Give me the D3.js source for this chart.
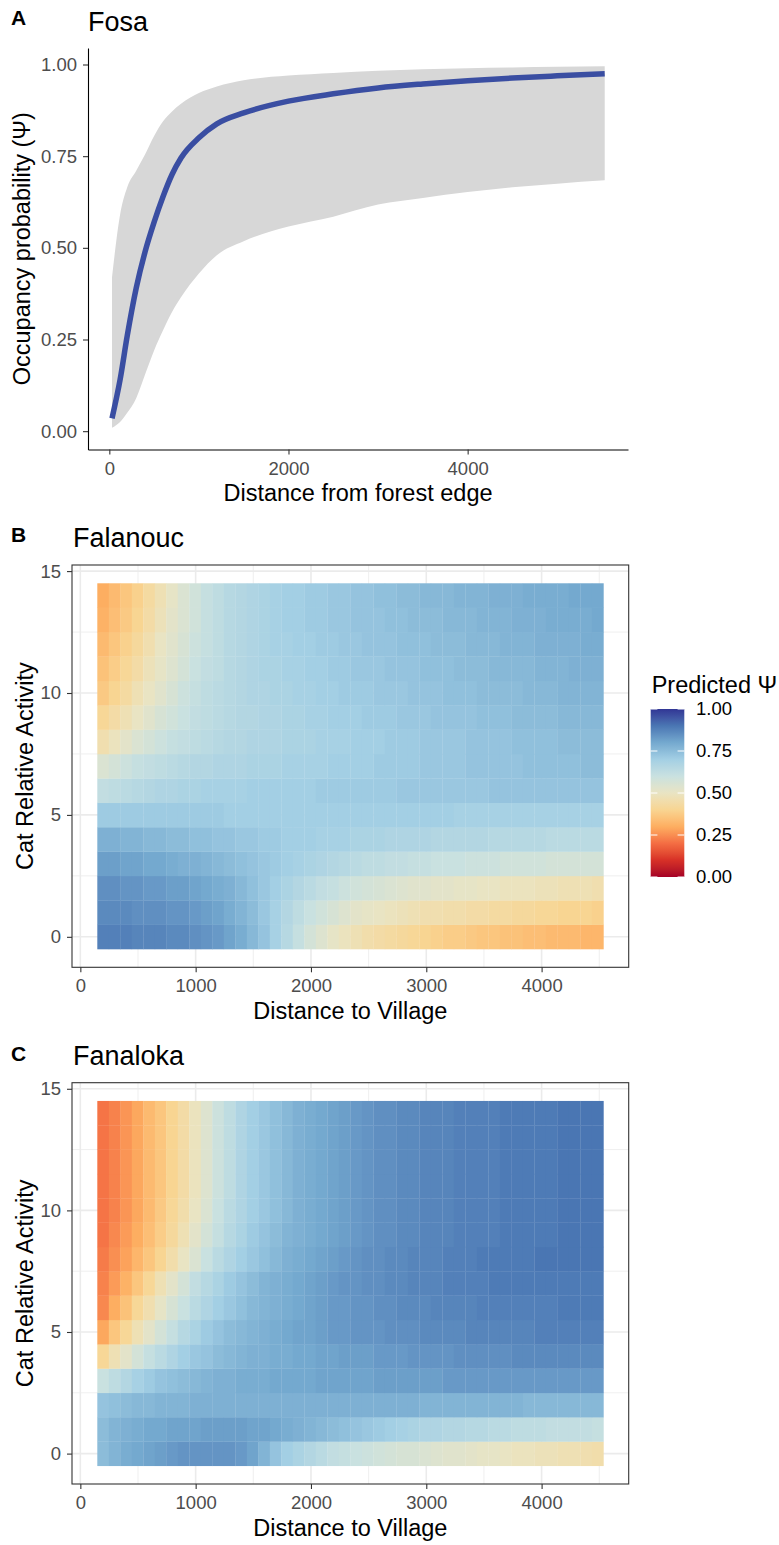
<!DOCTYPE html>
<html>
<head>
<meta charset="utf-8">
<script src="https://cdn.jsdelivr.net/npm/d3@7"></script>
<style>
  body { margin: 0; background: #fff; }
  svg text { font-family: "Liberation Sans", Arial, sans-serif; }
</style>
</head>
<body>
<svg id="fig" width="779" height="1545"></svg>
<script>

// ---- panel A data: Fosa, occupancy vs distance from forest edge ----
var fosaDist  = [30, 120, 200, 300, 400, 500, 600, 700, 800, 1000, 1200, 1500, 2000, 2500, 3000, 3500, 4000, 4500, 5000, 5530];
var fosaPsi   = [0.035, 0.14, 0.26, 0.39, 0.49, 0.57, 0.64, 0.70, 0.745, 0.80, 0.838, 0.868, 0.90, 0.92, 0.936, 0.947, 0.956, 0.963, 0.969, 0.975];
var fosaLower = [0.009, 0.025, 0.05, 0.09, 0.155, 0.22, 0.275, 0.325, 0.365, 0.43, 0.48, 0.518, 0.558, 0.585, 0.618, 0.636, 0.652, 0.665, 0.675, 0.684];
var fosaUpper = [0.42, 0.59, 0.665, 0.71, 0.755, 0.805, 0.845, 0.872, 0.893, 0.922, 0.94, 0.957, 0.97, 0.977, 0.983, 0.987, 0.99, 0.992, 0.994, 0.995];

var fosaXTicks = [0, 2000, 4000];
var psiTicks = [0, 0.25, 0.5, 0.75, 1];

// ---- panels B, C: predicted psi grid (percent), rows are cat activity 0..14 ----
var distVillage = [197, 297, 396, 496, 596, 696, 795, 895, 995, 1095, 1194, 1294, 1394, 1494, 1593, 1693, 1793, 1892, 1992, 2092, 2192, 2291,
                   2391, 2491, 2591, 2690, 2790, 2890, 2990, 3089, 3189, 3289, 3389, 3488, 3588, 3688, 3787, 3887, 3987, 4087, 4186, 4286, 4386, 4486];
var catActivity = [0, 1, 2, 3, 4, 5, 6, 7, 8, 9, 10, 11, 12, 13, 14];

var villageTicks = [0, 1000, 2000, 3000, 4000];
var catTicks = [0, 5, 10, 15];

var falanouc = [
  [88,88,88,87,87,87,86,86,85,84,83,81,79,76,73,69,65,61,57,54,51,49,47,45,44,43,42,41,40,39,38,38,37,36,36,35,35,34,34,33,33,33,32,32],
  [86,86,86,85,85,85,84,84,83,82,81,79,77,75,72,69,66,63,60,58,56,54,52,51,50,49,48,47,46,46,45,45,44,44,43,43,42,42,41,41,40,40,40,39],
  [85,85,84,84,83,83,82,82,81,80,79,78,76,74,72,70,68,66,64,62,61,59,58,57,56,55,54,53,53,52,52,51,51,50,50,49,49,49,48,48,47,47,47,46],
  [82,82,81,81,80,80,79,78,78,77,76,75,74,73,72,71,70,69,68,67,66,65,64,63,63,62,62,61,61,60,60,60,59,59,59,58,58,58,58,57,57,57,57,57],
  [78,78,77,77,76,76,75,75,74,74,73,73,72,72,71,71,70,70,70,69,69,69,68,68,68,67,67,67,67,66,66,66,66,66,65,65,65,65,65,64,64,64,64,64],
  [71,71,71,71,71,71,71,71,71,71,71,70,70,70,70,70,70,70,70,70,70,70,70,70,70,70,70,70,70,70,70,69,69,69,69,69,69,69,69,69,69,69,69,69],
  [62,63,64,65,66,67,67,68,68,69,69,69,69,70,70,70,70,70,70,71,71,71,71,71,71,71,72,72,72,72,72,72,72,72,73,73,73,73,73,73,73,73,73,73],
  [55,57,59,61,62,63,64,65,66,66,67,67,67,68,68,68,69,69,69,69,70,70,70,70,71,71,71,71,72,72,72,72,73,73,73,73,73,74,74,74,74,74,75,75],
  [46,49,52,55,57,59,61,62,63,64,65,66,66,67,67,67,68,68,68,69,69,69,70,70,70,71,71,71,72,72,72,72,73,73,73,73,74,74,74,74,75,75,75,75],
  [41,44,47,50,53,56,58,60,62,63,64,65,66,66,67,67,68,68,69,69,70,70,70,71,71,71,72,72,72,73,73,73,73,74,74,74,75,75,75,75,76,76,76,76],
  [37,40,43,47,50,53,56,59,61,63,64,65,66,67,67,68,68,69,69,70,70,71,71,71,72,72,72,73,73,73,74,74,74,75,75,75,75,76,76,76,77,77,77,77],
  [35,38,41,44,48,51,54,57,60,62,63,65,66,67,68,68,69,69,70,70,71,71,72,72,72,73,73,73,74,74,74,75,75,75,76,76,76,76,77,77,77,78,78,78],
  [33,36,39,42,46,50,53,56,59,61,63,65,66,67,68,69,69,70,70,71,71,72,72,73,73,73,74,74,74,75,75,75,76,76,76,77,77,77,78,78,78,78,79,79],
  [31,34,37,40,44,48,52,55,58,61,63,65,66,67,68,69,70,70,71,71,72,72,73,73,73,74,74,75,75,75,76,76,76,77,77,77,78,78,78,79,79,79,79,80],
  [30,33,36,39,43,47,51,55,58,61,63,65,66,67,68,69,70,70,71,71,72,72,73,73,74,74,75,75,76,76,76,77,77,77,78,78,78,79,79,79,79,80,80,80]
];

var fanaloka = [
  [75,77,79,80,81,82,83,84,84,84,84,84,83,81,77,73,70,68,66,64,62,61,60,59,58,57,56,56,55,54,53,53,52,51,51,50,49,49,48,48,47,47,46,45],
  [75,77,78,79,80,80,81,81,81,82,82,82,82,81,81,80,79,78,77,76,75,74,73,72,71,70,69,68,67,67,66,66,65,65,64,64,63,63,63,62,62,62,62,61],
  [73,74,75,76,76,77,77,77,78,78,78,78,78,78,78,78,78,78,78,78,78,78,78,78,78,78,78,78,77,77,77,77,77,77,77,77,77,76,76,76,76,76,76,76],
  [60,63,66,69,71,73,74,75,76,77,78,78,79,79,79,80,80,80,80,81,81,81,81,81,82,82,82,82,82,82,83,83,83,83,83,83,83,83,83,83,83,83,83,83],
  [41,47,52,57,61,64,67,70,72,73,75,76,77,78,78,79,79,80,80,81,81,82,82,82,83,83,83,84,84,84,84,85,85,85,85,85,86,86,86,86,86,86,86,86],
  [29,36,41,47,52,57,61,65,68,71,73,75,76,77,78,79,80,81,81,82,83,83,84,84,84,85,85,85,86,86,86,86,87,87,87,87,87,87,88,88,88,88,88,88],
  [24,30,35,41,46,51,56,60,64,67,70,72,74,76,77,78,79,80,81,82,83,83,84,84,85,85,86,86,86,87,87,87,87,88,88,88,88,88,88,88,89,89,89,89],
  [23,27,31,36,41,47,52,57,62,65,68,71,73,75,77,78,79,80,81,82,83,84,84,85,85,86,86,87,87,87,88,88,88,88,89,89,89,89,89,89,89,89,89,89],
  [22,25,28,32,36,40,45,50,55,60,64,67,70,72,74,76,78,79,80,81,82,83,84,85,85,86,86,87,87,87,88,88,88,89,89,89,89,89,90,90,90,90,90,90],
  [21,24,27,30,34,38,42,47,52,57,61,65,68,71,73,75,77,78,79,80,81,82,83,84,85,85,86,86,87,87,87,88,88,88,88,89,89,89,89,89,90,90,90,90],
  [21,23,26,29,33,37,41,45,50,55,60,64,67,70,72,74,76,78,79,80,81,82,83,84,85,85,86,86,87,87,87,88,88,88,88,89,89,89,89,89,90,90,90,90],
  [21,23,26,29,33,36,40,44,49,54,59,63,67,70,72,74,76,78,79,80,81,82,83,84,85,85,86,86,87,87,87,88,88,88,88,89,89,89,89,89,90,90,90,90],
  [21,23,26,29,33,36,40,44,49,54,59,63,67,70,72,74,76,78,79,80,81,82,83,84,85,85,86,86,87,87,87,88,88,88,88,89,89,89,89,89,90,90,90,90],
  [21,23,26,29,33,36,40,44,49,54,59,63,67,70,72,74,76,78,79,80,81,82,83,84,85,85,86,86,87,87,87,88,88,88,88,89,89,89,89,89,90,90,90,90],
  [21,23,26,29,33,36,40,44,49,54,59,63,67,70,72,74,76,78,79,80,81,82,83,84,85,85,86,86,87,87,87,88,88,88,88,89,89,89,89,89,90,90,90,90]
];

// red at 0, blue at 1 (RdYlBu, toned down around the middle)
var psiStops = [0, 0.1, 0.2, 0.3, 0.4, 0.5, 0.6, 0.7, 0.8, 0.9, 1];
var psiColors = ["#a50026", "#d73027", "#f46d43", "#fdae61", "#f8d592", "#e9e4c3", "#c9e1e0", "#a3cfe4", "#74a9cf", "#4a76b3", "#313695"];

var font = "'Liberation Sans', Arial, sans-serif";
var svg = d3.select("#fig");

var fill = d3.scaleLinear()
    .domain(psiStops)
    .range(psiColors)
    .interpolate(d3.interpolateLab);

function tag(letter, title, x, y, ty) {
  svg.append("text")
      .attr("x", 11).attr("y", y)
      .attr("font-size", 21).attr("font-weight", "bold")
      .text(letter);
  svg.append("text")
      .attr("x", x).attr("y", ty)
      .attr("font-size", 27)
      .text(title);
}

function styleAxis(g, lineColor) {
  g.selectAll(".tick line").attr("stroke", "#333").attr("stroke-width", 1.1);
  g.selectAll(".tick text").attr("fill", "#4d4d4d").attr("font-size", 18.5).attr("font-family", font);
  g.select(".domain").attr("stroke", lineColor).attr("stroke-width", 1.1);
}

// ================= A: Fosa =================
var A = {left: 88, right: 628, top: 48, bottom: 449.5};

var xA = d3.scaleLinear().domain([-238, 5790]).range([A.left, A.right]);
var yA = d3.scaleLinear().domain([-0.05, 1.045]).range([A.bottom, A.top]);

tag("A", "Fosa", 88, 25, 31);

var fosa = fosaDist.map(function(d, i) {
  return {x: d, psi: fosaPsi[i], lo: fosaLower[i], hi: fosaUpper[i]};
});

svg.append("path")
    .datum(fosa)
    .attr("fill", "#d7d7d7")
    .attr("d", d3.area()
      .curve(d3.curveMonotoneX)
      .x(function(d) { return xA(d.x); })
      .y0(function(d) { return yA(d.lo); })
      .y1(function(d) { return yA(d.hi); }));

svg.append("path")
    .datum(fosa)
    .attr("fill", "none")
    .attr("stroke", "#3a4ea2")
    .attr("stroke-width", 5.5)
    .attr("d", d3.line()
      .curve(d3.curveMonotoneX)
      .x(function(d) { return xA(d.x); })
      .y(function(d) { return yA(d.psi); }));

svg.append("g")
    .attr("transform", "translate(0," + A.bottom + ")")
    .call(d3.axisBottom(xA).tickValues(fosaXTicks).tickFormat(d3.format("d")).tickSize(5).tickPadding(7).tickSizeOuter(0))
    .call(styleAxis, "#000");

svg.append("g")
    .attr("transform", "translate(" + A.left + ",0)")
    .call(d3.axisLeft(yA).tickValues(psiTicks).tickFormat(d3.format(".2f")).tickSize(5).tickPadding(6).tickSizeOuter(0))
    .call(styleAxis, "#000");

svg.append("text")
    .attr("x", (A.left + A.right) / 2).attr("y", A.bottom + 51)
    .attr("text-anchor", "middle").attr("font-size", 23.5)
    .text("Distance from forest edge");

svg.append("text")
    .attr("transform", "translate(30," + (A.top + A.bottom) / 2 + ") rotate(-90)")
    .attr("text-anchor", "middle").attr("font-size", 23.5)
    .text("Occupancy probability (\u03A8)");

// ================= B, C: heatmaps =================
var colStep = (distVillage[distVillage.length - 1] - distVillage[0]) / (distVillage.length - 1);

function heatmap(grid, box) {
  var x0 = distVillage[0] - colStep / 2,
      x1 = distVillage[distVillage.length - 1] + colStep / 2,
      y0 = catActivity[0] - 0.5,
      y1 = catActivity[catActivity.length - 1] + 0.5,
      ex = (x1 - x0) * 0.05, ey = (y1 - y0) * 0.05;

  var x = d3.scaleLinear().domain([x0 - ex, x1 + ex]).range([box.left, box.right]);
  var y = d3.scaleLinear().domain([y0 - ey, y1 + ey]).range([box.bottom, box.top]);

  var g = svg.append("g");

  // grid, minor then major
  var minorX = villageTicks.map(function(d) { return d + 500; }).filter(function(d) { return d < x1 + ex; });
  var minorY = [2.5, 7.5, 12.5];
  g.selectAll(".minx").data(minorX).enter().append("line")
      .attr("x1", x).attr("x2", x).attr("y1", box.top).attr("y2", box.bottom)
      .attr("stroke", "#ebebeb").attr("stroke-width", 0.8);
  g.selectAll(".miny").data(minorY).enter().append("line")
      .attr("y1", y).attr("y2", y).attr("x1", box.left).attr("x2", box.right)
      .attr("stroke", "#ebebeb").attr("stroke-width", 0.8);
  g.selectAll(".majx").data(villageTicks).enter().append("line")
      .attr("x1", x).attr("x2", x).attr("y1", box.top).attr("y2", box.bottom)
      .attr("stroke", "#ebebeb").attr("stroke-width", 1.6);
  g.selectAll(".majy").data(catTicks).enter().append("line")
      .attr("y1", y).attr("y2", y).attr("x1", box.left).attr("x2", box.right)
      .attr("stroke", "#ebebeb").attr("stroke-width", 1.6);

  var cells = [];
  grid.forEach(function(row, r) {
    row.forEach(function(v, c) {
      cells.push({d: distVillage[c], a: catActivity[r], psi: v / 100});
    });
  });

  g.selectAll("rect.tile").data(cells).enter().append("rect")
      .attr("class", "tile")
      .attr("x", function(d) { return x(d.d - colStep / 2); })
      .attr("y", function(d) { return y(d.a + 0.5); })
      .attr("width", x(colStep) - x(0) + 0.3)
      .attr("height", y(0) - y(1) + 0.3)
      .attr("fill", function(d) { return fill(d.psi); });

  g.append("rect")
      .attr("x", box.left).attr("y", box.top)
      .attr("width", box.right - box.left).attr("height", box.bottom - box.top)
      .attr("fill", "none").attr("stroke", "#333").attr("stroke-width", 1.1);

  svg.append("g")
      .attr("transform", "translate(0," + box.bottom + ")")
      .call(d3.axisBottom(x).tickValues(villageTicks).tickFormat(d3.format("d")).tickSize(5).tickPadding(7).tickSizeOuter(0))
      .call(styleAxis, "none");

  svg.append("g")
      .attr("transform", "translate(" + box.left + ",0)")
      .call(d3.axisLeft(y).tickValues(catTicks).tickSize(5).tickPadding(6).tickSizeOuter(0))
      .call(styleAxis, "none");

  svg.append("text")
      .attr("x", (box.left + box.right) / 2).attr("y", box.bottom + 52)
      .attr("text-anchor", "middle").attr("font-size", 23.5)
      .text("Distance to Village");

  svg.append("text")
      .attr("transform", "translate(33," + (box.top + box.bottom) / 2 + ") rotate(-90)")
      .attr("text-anchor", "middle").attr("font-size", 23.5)
      .text("Cat Relative Activity");
}

var B = {left: 72, right: 628.7, top: 565, bottom: 967.3};
tag("B", "Falanouc", 73, 541.7, 546.7);
heatmap(falanouc, B);

var C = {left: 72, right: 628.7, top: 1082.7, bottom: 1484};
tag("C", "Fanaloka", 73, 1060.7, 1065);
heatmap(fanaloka, C);

// ================= legend =================
var leg = {x: 650.7, top: 709, bottom: 877, w: 33.6};
var yL = d3.scaleLinear().domain([0, 1]).range([leg.bottom, leg.top]);

var grad = svg.append("defs").append("linearGradient")
    .attr("id", "psiGrad")
    .attr("x1", 0).attr("y1", 1).attr("x2", 0).attr("y2", 0);
grad.selectAll("stop").data(d3.range(0, 1.001, 0.02)).enter().append("stop")
    .attr("offset", function(d) { return d; })
    .attr("stop-color", function(d) { return fill(d); });

svg.append("text")
    .attr("x", 651.7).attr("y", 693)
    .attr("font-size", 23.5)
    .text("Predicted \u03A8");

svg.append("rect")
    .attr("x", leg.x).attr("y", leg.top)
    .attr("width", leg.w).attr("height", leg.bottom - leg.top)
    .attr("fill", "url(#psiGrad)");

var legTicks = svg.append("g").selectAll("g").data(psiTicks).enter().append("g");
legTicks.append("line")
    .attr("x1", leg.x).attr("x2", leg.x + leg.w / 5)
    .attr("y1", yL).attr("y2", yL)
    .attr("stroke", "#fff").attr("stroke-width", 1);
legTicks.append("line")
    .attr("x1", leg.x + leg.w).attr("x2", leg.x + leg.w * 4 / 5)
    .attr("y1", yL).attr("y2", yL)
    .attr("stroke", "#fff").attr("stroke-width", 1);
legTicks.append("text")
    .attr("x", 696).attr("y", yL)
    .attr("dy", "0.35em")
    .attr("font-size", 18.5)
    .text(d3.format(".2f"));

</script>
</body>
</html>
